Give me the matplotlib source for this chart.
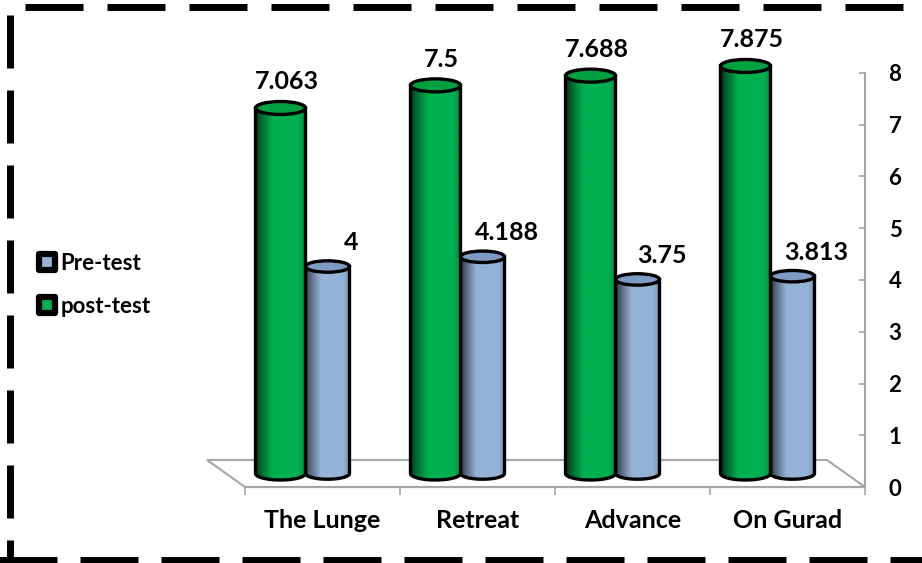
import numpy as np
import matplotlib
matplotlib.use("Agg")
import matplotlib.pyplot as plt
from matplotlib.patches import Ellipse, Polygon
from matplotlib.lines import Line2D
from matplotlib.markers import MarkerStyle
from matplotlib.colors import to_rgb

plt.rcParams['font.family'] = ['Lato', 'DejaVu Sans']
plt.rcParams['font.weight'] = 'bold'
plt.rcParams['lines.scale_dashes'] = False

# data
categories = ["The Lunge", "Retreat", "Advance", "On Gurad"]
pre_test = [4, 4.188, 3.75, 3.813]
post_test = [7.063, 7.5, 7.688, 7.875]
series_names = ["Pre-test", "post-test"]
y_ticks = [0, 1, 2, 3, 4, 5, 6, 7, 8]

# colours
green, green_top = '#00B050', '#00A040'
blue, blue_top = '#95B3D7', '#7E9CC3'
grid_grey = '#A6A6A6'

W, H = 922, 563
fig = plt.figure(figsize=(W / 100, H / 100), dpi=100)
ax = fig.add_axes([0, 0, 1, 1])

# pixel layout: first category edge at x=245, 155 px per category,
# value 0 at y=487 (from top), 51.75 px per unit
px_x0, px_cat = 245, 155
px_y0, px_val = 487, 51.75


def dx(p):
    return p / px_cat


def dy(p):
    return p / px_val


n = len(categories)
floor_dx, floor_dy = dx(-38), dy(27)
bar_dx, bar_dy = floor_dx / 2, floor_dy / 2

# floor of the 3d plot
ax.add_patch(Polygon([(0, 0), (n, 0), (n + floor_dx, floor_dy), (floor_dx, floor_dy)],
                     closed=True, fill=False, edgecolor=grid_grey, lw=1.5, zorder=1))

shade = np.interp(np.linspace(0, 1, 200), [0, 0.1, 0.35, 0.85, 1], [0.3, 0.55, 1, 1, 0.8])


def cylinder(xc, w, value, color, top_color, z):
    base = bar_dy
    top = value + bar_dy
    x0, x1 = xc - w / 2, xc + w / 2
    eh = dy(w * px_cat * 0.26)
    t = np.linspace(np.pi, 2 * np.pi, 60)
    arc = np.column_stack([xc + w / 2 * np.cos(t), base + eh / 2 * np.sin(t)])
    outline = np.vstack([[x0, top], arc, [x1, top]])

    img = (shade[:, None] * np.array(to_rgb(color)))[None, :, :]
    im = ax.imshow(img, extent=(x0, x1, base - eh / 2, top), aspect='auto',
                   interpolation='bilinear', zorder=z)
    body = Polygon(outline, closed=True, facecolor='none', edgecolor='none', zorder=z)
    ax.add_patch(body)
    im.set_clip_path(body)
    ax.plot(outline[:, 0], outline[:, 1], color='black', lw=2.4, zorder=z + 0.1,
            solid_joinstyle='round')
    ax.add_patch(Ellipse((xc, top), w, eh, facecolor=top_color, edgecolor='black',
                         lw=2.4, zorder=z + 0.2))
    return xc, top


w_green, w_blue = dx(50), dx(44)
for i in range(n):
    mid = i + 0.5 + bar_dx + dx(2)
    bx, bt = cylinder(mid + w_blue / 2, w_blue, pre_test[i], blue, blue_top, 3)
    ax.annotate(f"{pre_test[i]:g}", (bx, bt), xytext=(24, 24), textcoords='offset pixels',
                ha='center', va='center', fontsize=18, fontweight='bold')
    gx, gt = cylinder(mid - w_green / 2, w_green, post_test[i], green, green_top, 4)
    ax.annotate(f"{post_test[i]:g}", (gx, gt), xytext=(6, 26), textcoords='offset pixels',
                ha='center', va='center', fontsize=18, fontweight='bold')

ax.set_xlim(-px_x0 / px_cat, (W - px_x0) / px_cat)
ax.set_ylim((px_y0 - H) / px_val, px_y0 / px_val)

# axes
ax.spines['left'].set_visible(False)
ax.spines['top'].set_visible(False)
ax.spines['right'].set_position(('data', n))
ax.spines['right'].set_bounds(0, 8)
ax.spines['bottom'].set_position(('data', 0))
ax.spines['bottom'].set_bounds(0, n)
for s in ['right', 'bottom']:
    ax.spines[s].set_color(grid_grey)
    ax.spines[s].set_linewidth(1.5)
    ax.spines[s].set_zorder(1)

ax.yaxis.tick_right()
ax.set_yticks(y_ticks)
ax.tick_params(axis='y', direction='in', length=4.5, width=1.2, color=grid_grey,
               pad=17, labelsize=16)
ax.set_xticks(np.arange(n) + 0.5, categories)
ax.set_xticks(np.arange(n + 1), minor=True)
ax.tick_params(axis='x', which='major', length=0, pad=16, labelsize=18)
ax.tick_params(axis='x', which='minor', direction='out', length=6, width=1.2, color=grid_grey)
ax.patch.set_visible(False)

# legend
handles = [Line2D([], [], ls='none', marker=MarkerStyle('s', joinstyle='round'), ms=11,
                  mew=4.5, mec='black', mfc=c) for c in (blue, green)]
fig.legend(handles, series_names, loc='center left', bbox_to_anchor=(36 / W, 1 - 285 / H),
           frameon=False, fontsize=16, handlelength=0.95, handletextpad=0.15,
           labelspacing=1.0, borderpad=0, borderaxespad=0)


# dashed frame round the picture
def frame_line(xs, ys, on, off):
    fig.add_artist(Line2D([x / W for x in xs], [1 - y / H for y in ys],
                          transform=fig.transFigure, color='black', lw=5.0,
                          dashes=(on * 0.72, off * 0.72), solid_capstyle='butt',
                          dash_capstyle='butt'))


frame_line([25, 940], [7, 7], 58, 24)
frame_line([10, 10], [15, 600], 53, 22)
frame_line([-18, 940], [560, 560], 58, 23)

fig.savefig("out.png", dpi=100)
